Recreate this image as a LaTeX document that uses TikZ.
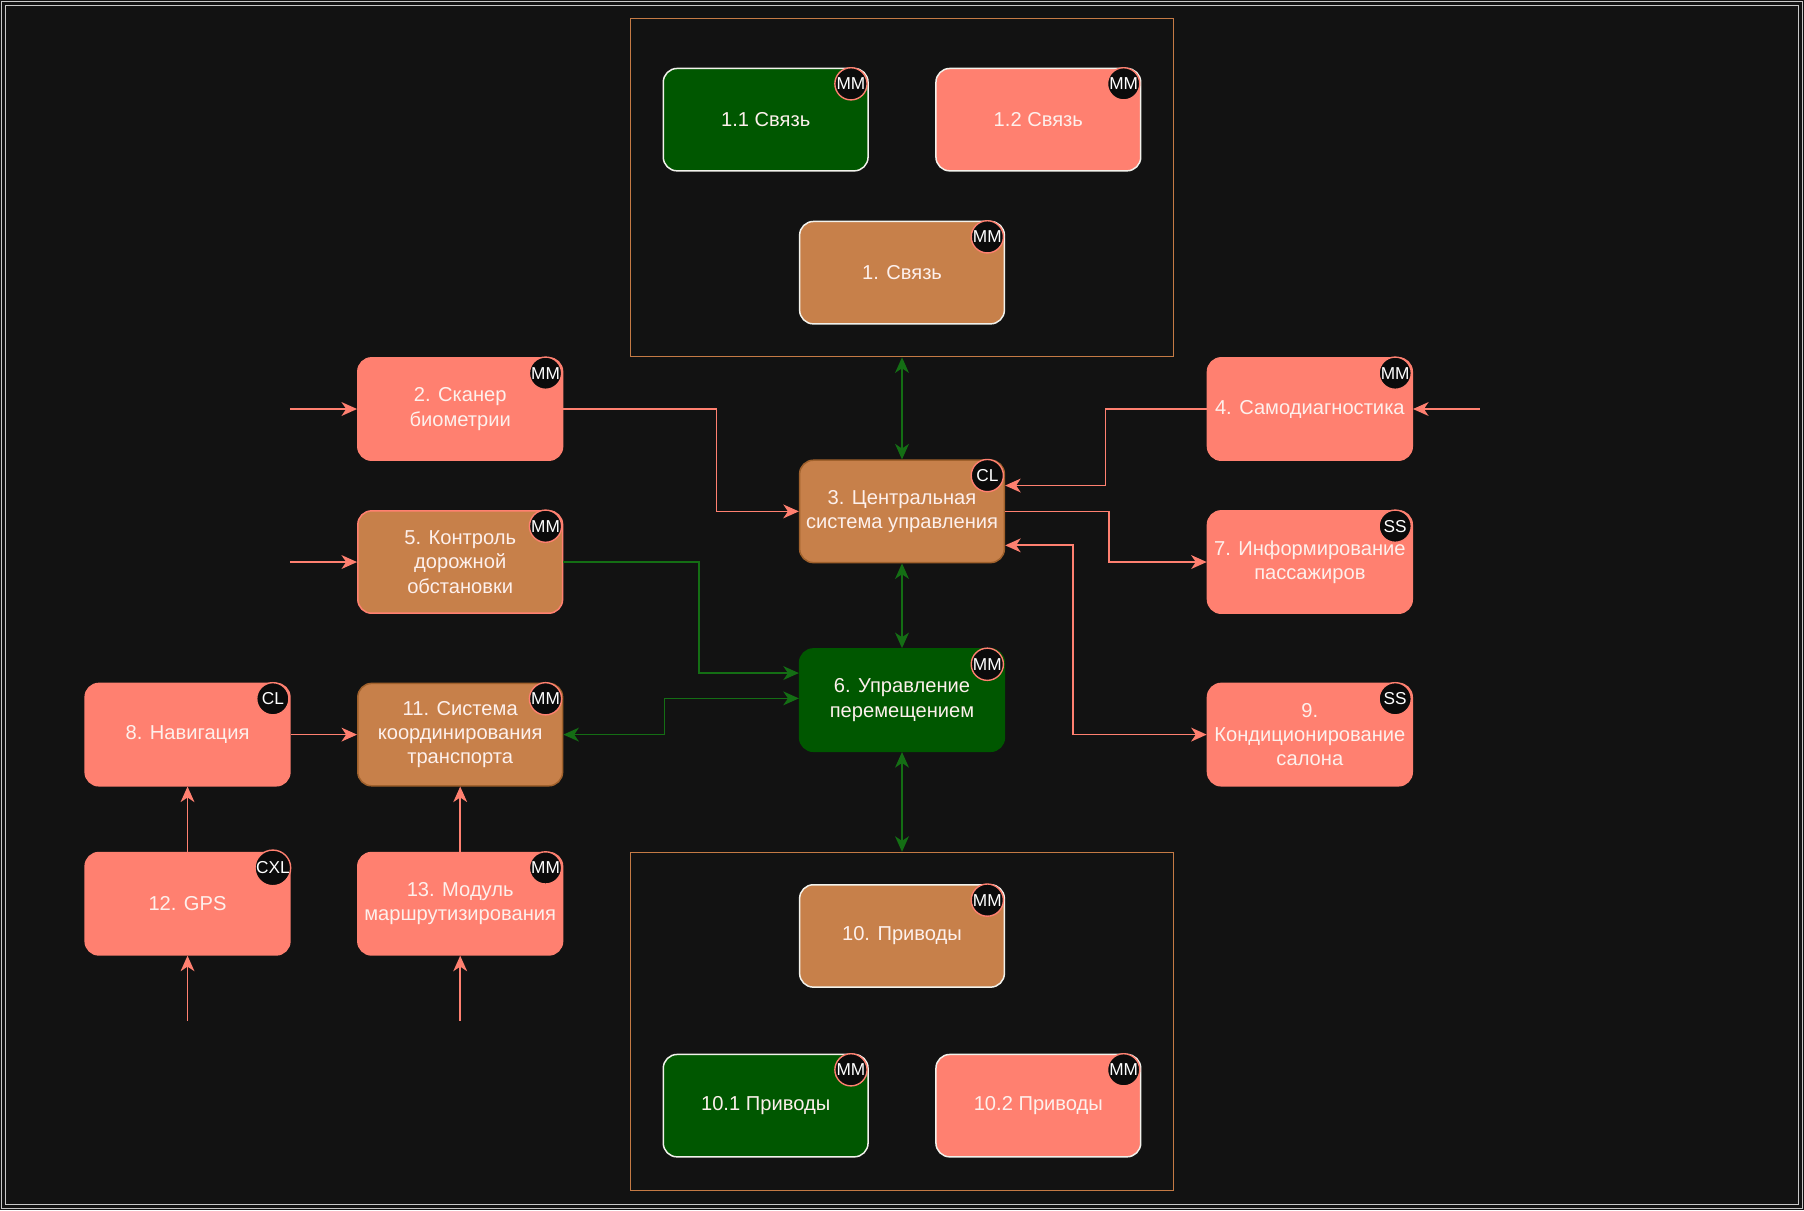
\documentclass[tikz,border=0pt]{standalone}
\usepackage{fontspec}
\setmainfont{Liberation Sans}
\usetikzlibrary{arrows.meta,calc}
\definecolor{bgc}{HTML}{121212}
\definecolor{badgebg}{HTML}{0B0B0B}
\definecolor{salm}{HTML}{FF8070}
\definecolor{dgreen}{HTML}{005700}
\definecolor{brn}{HTML}{C7804A}
\definecolor{brnd}{HTML}{A0612C}
\definecolor{contc}{HTML}{C47A45}
\definecolor{linkg}{HTML}{146E14}
\definecolor{txtc}{HTML}{FDF0EC}
\definecolor{wedge}{HTML}{F2F2EC}
\definecolor{framec}{HTML}{C8C8C8}
\newcommand\boxfont{\fontsize{17.5pt}{21pt}\selectfont}
\newcommand\badgefont{\fontsize{15pt}{15pt}\selectfont}
\newcommand\badge[2]{\node[badge] (b#1) at ([shift={(-15.5pt,-14pt)}]#1.north east) {#2};}
\tikzset{
  sysbox/.style={rounded corners=12pt, minimum width=178pt, minimum height=89pt,
    align=center, text=txtc, font=\boxfont, line width=1.3pt, inner sep=1pt},
  salbox/.style={sysbox, fill=salm, draw=salm},
  salwbox/.style={sysbox, fill=salm, draw=wedge},
  grnwbox/.style={sysbox, fill=dgreen, draw=wedge},
  grnbox/.style={sysbox, fill=dgreen, draw=dgreen},
  brnwbox/.style={sysbox, fill=brn, draw=wedge},
  brnsbox/.style={sysbox, fill=brn, draw=salm},
  brndbox/.style={sysbox, fill=brn, draw=brnd},
  container/.style={draw=contc, line width=1.2pt, inner sep=0pt},
  badge/.style={circle, fill=badgebg, draw=salm, line width=1.2pt, minimum size=28pt,
    inner sep=0pt, text=white, font=\badgefont},
  tipx/.tip={Stealth[length=13.5pt,width=12pt,inset=4pt]},
  salarrow/.style={draw=salm, line width=1.5pt, -tipx},
  salboth/.style={draw=salm, line width=1.5pt, tipx-tipx},
  grnarrow/.style={draw=linkg, line width=1.3pt, -tipx},
  grnboth/.style={draw=linkg, line width=1.3pt, tipx-tipx},
}
\begin{document}
\begin{tikzpicture}[x=1pt,y=-1pt]
\fill[bgc] (0,0) rectangle (1568,1052);
\useasboundingbox (0,0) rectangle (1568,1052);
\draw[framec, line width=0.9pt] (1.2,1.2) rectangle (1566.6,1050.6);
\draw[framec, line width=0.9pt] (4.4,4.4) rectangle (1562.8,1046.6);

% containers
\node[container, minimum width=472pt, minimum height=294pt] (topc) at (784,163) {};
\node[container, minimum width=472pt, minimum height=294pt] (botc) at (784,888) {};

% top group
\node[grnwbox] (c11) at (665.5,104) {1.1 Связь};
\node[salwbox] (c12) at (902.5,104) {1.2 Связь};
\node[brnwbox] (c1) at (784,237) {1. Связь};

% middle
\node[salbox] (s2) at (400,355.5) {2. Сканер\\биометрии};
\node[brnsbox] (s5) at (400,488.5) {5. Контроль\\дорожной\\обстановки};
\node[brndbox] (s11) at (400,638.5) {11. Система\\координирования\\транспорта};
\node[salbox] (s8) at (163,638.5) {8. Навигация};
\node[salbox] (s12) at (163,785.5) {12. GPS};
\node[salbox] (s13) at (400,785.5) {13. Модуль\\маршрутизирования};
\node[brndbox] (s3) at (784,444.5) {3. Центральная\\система управления};
\node[grnbox] (s6) at (784,608.5) {6. Управление\\перемещением};
\node[salbox] (s4) at (1138.5,355.5) {4. Самодиагностика};
\node[salbox] (s7) at (1138.5,488.5) {7. Информирование\\пассажиров};
\node[salbox] (s9) at (1138.5,638.5) {9.\\Кондиционирование\\салона};

% bottom group
\node[brnwbox] (d10) at (784,813.5) {10. Приводы};
\node[grnwbox] (d101) at (665.5,961) {10.1 Приводы};
\node[salwbox] (d102) at (902.5,961) {10.2 Приводы};

% badges
\badge{c11}{MM}
\badge{c12}{MM}
\badge{c1}{MM}
\badge{s2}{MM}
\badge{s5}{MM}
\badge{s11}{MM}
\badge{s8}{CL}
\badge{s12}{CXL}
\badge{s13}{MM}
\badge{s3}{CL}
\badge{s6}{MM}
\badge{s4}{MM}
\badge{s7}{SS}
\badge{s9}{SS}
\badge{d10}{MM}
\badge{d101}{MM}
\badge{d102}{MM}

% free ends
\coordinate (in2) at (252,355.5);
\coordinate (in5) at (252,488.5);
\coordinate (in12) at (163,887);
\coordinate (in13) at (400,887);
\coordinate (in4) at (1286,355.5);

% green vertical links
\draw[grnboth] (topc.south) -- (s3.north);
\draw[grnboth] (s3.south) -- (s6.north);
\draw[grnboth] (s6.south) -- (botc.north);

% green side links
\draw[grnarrow] (s5.east) -- ++(118,0) |- ([yshift=23.5pt]s6.west);
\draw[grnboth] (s11.east) -- ++(88,0) |- ([yshift=1.5pt]s6.west);

% salmon links
\draw[salarrow] (in2) -- (s2.west);
\draw[salarrow] (in5) -- (s5.west);
\draw[salarrow] (s2.east) -- ++(133,0) |- (s3.west);
\draw[salarrow] (s8.east) -- (s11.west);
\draw[salarrow] (s12.north) -- (s8.south);
\draw[salarrow] (s13.north) -- (s11.south);
\draw[salarrow] (in12) -- (s12.south);
\draw[salarrow] (in13) -- (s13.south);
\draw[salarrow] (in4) -- (s4.east);
\draw[salarrow] (s4.west) -- ++(-88,0) |- ([yshift=22.5pt]s3.east);
\draw[salarrow] (s3.east) -- ++(90,0) |- (s7.west);
\draw[salboth] ([yshift=-29.5pt]s3.east) -- ++(59,0) |- (s9.west);
\end{tikzpicture}
\end{document}
